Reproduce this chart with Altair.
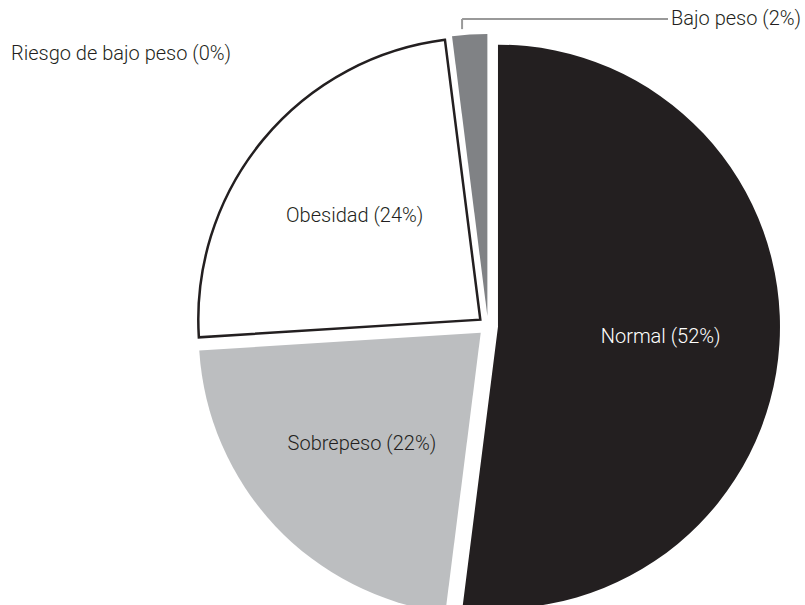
import altair as alt
import pandas as pd

categories = ["Normal", "Sobrepeso", "Obesidad", "Riesgo de bajo peso", "Bajo peso"]
values = [52, 22, 24, 0, 2]
fills = ["#231f20", "#bcbec0", "#ffffff", "#ffffff", "#808285"]
strokes = ["#231f20", "#231f20", "#231f20", "#231f20", "#231f20"]
stroke_widths = [0, 0, 2.5, 0, 0]
label_colors = ["#ffffff", "#231f20", "#231f20", "#231f20", "#231f20"]
label_inside = [True, True, True, False, False]

df = pd.DataFrame({
    "cat": categories,
    "value": values,
    "order": list(range(len(categories))),
    "fill": fills,
    "strk": strokes,
    "sw": stroke_widths,
    "lc": label_colors,
    "inside": label_inside,
})

CX, CY, R, EXPLODE, LR = 488, 326, 282, 10, 163
FONT = "Roboto"
FS = 20

base = (
    alt.Chart(df)
    .transform_window(cum="sum(value)", sort=[alt.SortField("order")], frame=[None, 0])
    .transform_joinaggregate(total="sum(value)")
    .transform_calculate(
        t1="datum.cum / datum.total * 2 * PI",
        t0="(datum.cum - datum.value) / datum.total * 2 * PI",
    )
    .transform_calculate(
        mid="(datum.t0 + datum.t1) / 2",
        anchor="datum.t0 + 0.3 * (datum.t1 - datum.t0)",
    )
    .transform_calculate(
        cx=f"{CX} + {EXPLODE} * sin(datum.mid)",
        cy=f"{CY} - {EXPLODE} * cos(datum.mid)",
    )
    .transform_calculate(
        lx=f"datum.cx + {LR} * sin(datum.mid)",
        ly=f"datum.cy - {LR} * cos(datum.mid)",
        ox=f"datum.cx + {R + 6} * sin(datum.anchor)",
        oy=f"datum.cy - {R + 6} * cos(datum.anchor)",
        label="datum.cat + ' (' + datum.value + '%)'",
    )
)

arcs = base.mark_arc(outerRadius=R).encode(
    x=alt.X("cx:Q", scale=None, axis=None),
    y=alt.Y("cy:Q", scale=None, axis=None),
    theta=alt.Theta("t0:Q", scale=None),
    theta2="t1:Q",
    fill=alt.Fill("fill:N", scale=None),
    stroke=alt.Stroke("strk:N", scale=None),
    strokeWidth=alt.StrokeWidth("sw:Q", scale=None),
    order=alt.Order("order:Q"),
)

inner_labels = base.transform_filter("datum.inside").mark_text(
    font=FONT, fontSize=FS, fontWeight=300, align="center", baseline="middle"
).encode(
    x=alt.X("lx:Q", scale=None),
    y=alt.Y("ly:Q", scale=None),
    text="label:N",
    color=alt.Color("lc:N", scale=None),
)

# Outer label for "Bajo peso" with leader line
bajo = base.transform_filter("datum.cat == 'Bajo peso'")
leader_v = bajo.mark_rule(color="#999999", strokeWidth=2).encode(
    x=alt.X("ox:Q", scale=None),
    y=alt.Y("oy:Q", scale=None),
    y2=alt.value(19),
)
leader_h = bajo.mark_rule(color="#999999", strokeWidth=2).encode(
    x=alt.X("ox:Q", scale=None),
    x2=alt.value(668),
    y=alt.value(19),
)
bajo_label = bajo.mark_text(
    font=FONT, fontSize=FS, fontWeight=300, align="left", baseline="middle", color="#231f20"
).encode(x=alt.value(671), y=alt.value(19), text="label:N")

riesgo_label = base.transform_filter("datum.cat == 'Riesgo de bajo peso'").mark_text(
    font=FONT, fontSize=FS, fontWeight=300, align="left", baseline="middle", color="#231f20"
).encode(x=alt.value(11), y=alt.value(54), text="label:N")

chart = (
    alt.layer(arcs, inner_labels, leader_v, leader_h, bajo_label, riesgo_label)
    .properties(width=805, height=605, autosize=alt.AutoSizeParams(type="none"), padding=0)
    .configure_view(stroke=None)
)

chart.save("out.html", embed_options={"renderer": "svg", "actions": False})
